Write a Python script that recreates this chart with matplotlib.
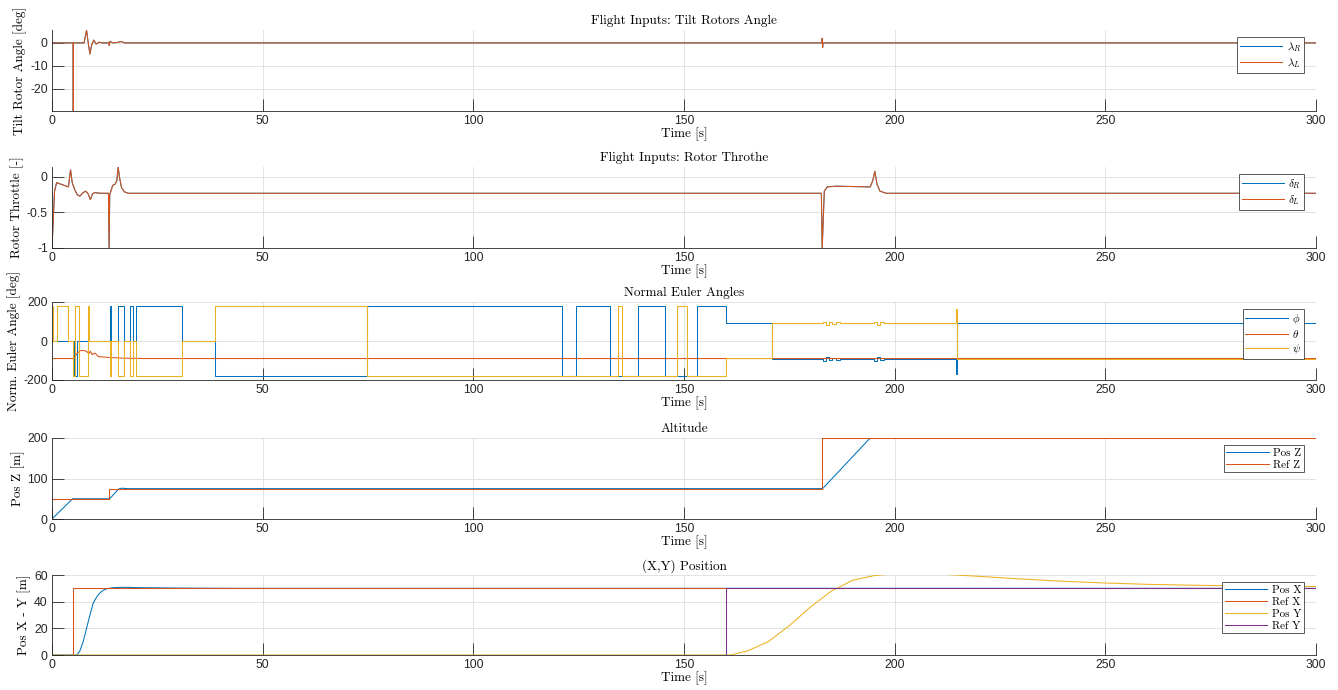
import matplotlib

matplotlib.use("Agg")
import matplotlib.pyplot as plt  # noqa: E402
from matplotlib.ticker import FuncFormatter  # noqa: E402

plt.rcParams["font.family"] = ["Liberation Sans", "DejaVu Sans"]
plt.rcParams["mathtext.fontset"] = "cm"
plt.rcParams["axes.unicode_minus"] = False

SERIF = "cmr10"
C_BLUE, C_ORANGE, C_YELLOW, C_PURPLE = "#0072BD", "#D95319", "#EDB120", "#7E2F8E"

# --- Tilt rotor angle [deg] (right and left overlap) ---
tilt_t = [0, 5.0, 5.05, 5.1, 7.6, 8.2, 8.6, 9.0, 9.4, 9.9, 10.5, 11.2, 12.0,
          13.5, 13.6, 13.7, 14.5, 15.5, 16.4, 17.3, 18.5, 182.7, 182.8, 182.9, 183.0, 300]
tilt_v = [0, 0, -40, 0, 0, 5.5, 0, -4.8, -1.0, 1.2, -0.5, 0.3, 0,
          0, -1.2, 0.6, 0, 0.2, 0.6, 0, 0, 0, 2.0, -2.0, 0, 0]

# --- Rotor throttle [-] ---
thr_t = [0, 0.6, 1.1, 2.0, 3.9, 4.4, 4.8, 5.4, 6.0, 6.6, 7.4, 8.0, 8.6, 9.1, 9.6,
         10.1, 11.5, 13.4, 13.55, 13.7, 14.4, 15.0, 15.4, 15.7, 16.0, 16.5, 17.2,
         18.1, 182.6, 182.8, 183.3, 184.0, 186.0, 194.2, 194.8, 195.3, 195.8, 196.5,
         198.0, 300]
thr_v = [-1, -0.2, -0.08, -0.1, -0.14, 0.1, -0.08, -0.18, -0.25, -0.27, -0.22, -0.2,
         -0.24, -0.32, -0.24, -0.22, -0.23, -0.23, -1.0, -0.25, -0.12, -0.1, -0.05,
         0.14, 0.0, -0.15, -0.21, -0.23, -0.23, -1.0, -0.2, -0.14, -0.13, -0.14,
         -0.05, 0.08, -0.1, -0.2, -0.23, -0.23]

# --- Normal Euler angles [deg] (phi, psi held between switch times) ---
phi_t = [0, 5.2, 6.0, 13.8, 14.1, 15.7, 17.1, 18.4, 19.3, 19.9, 30.9, 38.7, 74.7,
         121.0, 124.4, 132.5, 139.0, 145.5, 153.0, 160.0, 170.8, 183.0, 183.7, 184.4,
         185.2, 186.0, 187.0, 195.0, 195.8, 196.6, 197.5, 214.5, 214.9, 300]
phi_v = [0, -180, 0, 180, 0, 180, 0, 180, 0, 180, 0, -180, 180,
         -180, 180, -180, 180, -180, 180, 90, -90, -100, -80, -95,
         -85, -97, -90, -100, -82, -96, -90, -170, 90, 90]
theta_t = [0, 5.2, 6.0, 6.6, 7.5, 8.3, 8.8, 9.1, 9.5, 10.2, 11.0, 12.0, 14.0, 17.0,
           22.0, 300]
theta_v = [-90, -90, -62, -50, -48, -55, -65, -52, -70, -62, -80, -82, -85, -88,
           -90, -90]
psi_t = [0, 0.3, 1.1, 3.9, 5.1, 5.4, 6.3, 8.6, 8.8, 13.8, 14.1, 15.7, 17.1, 18.4,
         19.3, 19.9, 30.9, 38.7, 74.7, 134.3, 135.3, 148.4, 150.7, 160.0, 170.8,
         183.0, 183.7, 184.4, 185.2, 186.0, 187.0, 195.0, 195.8, 196.6, 197.5, 214.5,
         214.9, 300]
psi_v = [180, 0, 180, 0, -180, 180, -180, 180, 0, -180, 0, -180, 0, -180,
         0, -180, 0, 180, -180, 180, -180, 180, -180, -88, 90,
         100, 82, 97, 85, 95, 90, 98, 82, 95, 90, 165,
         -90, -90]

# --- Altitude [m] ---
refz_t = [0, 13.6, 182.8, 300]
refz_v = [50, 75, 200, 200]
posz_t = [0, 4.9, 13.7, 15.8, 16.5, 18.0, 182.9, 194.0, 195.5, 198.0, 300]
posz_v = [0, 50, 50, 74, 76, 75, 75, 198, 201, 200, 200]

# --- (X,Y) position [m] ---
refx_t = [0, 5.06, 300]
refx_v = [0, 50, 50]
refy_t = [0, 160.0, 300]
refy_v = [0, 50, 50]
posx_t = [0, 5.9, 6.6, 7.4, 8.2, 9.0, 9.8, 10.6, 11.4, 12.2, 13.0, 14.5, 16.9, 20.8,
          30.0, 45.0, 300]
posx_v = [0, 0, 3, 10, 20, 30, 39, 43.5, 46.7, 48.6, 49.7, 50.5, 50.8, 50.5,
          50.2, 50.0, 50.0]
posy_t = [0, 161, 165, 170, 175, 180, 185, 190, 195, 200, 205, 210, 220, 230, 240,
          250, 260, 270, 280, 290, 300]
posy_v = [0, 0, 3, 10, 22, 36, 48, 56, 59.5, 61, 61.2, 60.8, 59, 57, 55.3,
          54, 53, 52.4, 51.9, 51.6, 51.4]

W, H = 1338, 690
fig = plt.figure(figsize=(W / 100, H / 100), dpi=100)
fmt_g = FuncFormatter(lambda v, _: f"{v:g}")


def make_axes(top, bot):
    return fig.add_axes([52 / W, 1 - bot / H, 1264 / W, (bot - top) / H])


def style(ax, title, ylabel, ylim, yticks, h_px):
    ax.set_xlim(0, 300)
    ax.set_ylim(*ylim)
    ax.set_xticks(range(0, 301, 50))
    ax.set_yticks(yticks)
    ax.yaxis.set_major_formatter(fmt_g)
    ax.grid(True, color="#e2e2e2", linewidth=0.7)
    ax.set_axisbelow(True)
    for s in ("top", "right"):
        ax.spines[s].set_visible(False)
    for s in ("left", "bottom"):
        ax.spines[s].set_color("#262626")
        ax.spines[s].set_linewidth(0.6)
    ax.tick_params(direction="in", length=8.6, width=0.6, colors="#262626",
                   labelsize=8.8, pad=3)
    ax.set_title(title, fontfamily=SERIF, fontsize=9.5, pad=4)
    ax.set_xlabel("Time [s]", fontfamily=SERIF, fontsize=9.5, labelpad=0)
    ax.set_ylabel(ylabel, fontfamily=SERIF, fontsize=9.5, labelpad=2)
    leg = ax.legend(loc="upper right", bbox_to_anchor=(0.9905, 1 - 7 / h_px),
                    prop={"family": SERIF, "size": 8}, handlelength=3.8,
                    fancybox=False, edgecolor="#404040", framealpha=1,
                    borderpad=0.25, labelspacing=0.2, handletextpad=0.4,
                    borderaxespad=0)
    leg.get_frame().set_linewidth(0.6)


lw = 0.75

ax1 = make_axes(30, 111)
ax1.plot(tilt_t, tilt_v, color=C_BLUE, lw=lw, label=r"$\lambda_R$")
ax1.plot(tilt_t, tilt_v, color=C_ORANGE, lw=lw, label=r"$\lambda_L$")
style(ax1, "Flight Inputs: Tilt Rotors Angle", "Tilt Rotor Angle [deg]",
      (-29.6, 5.6), [-20, -10, 0], 81)

ax2 = make_axes(167, 248)
ax2.plot(thr_t, thr_v, color=C_BLUE, lw=lw, label=r"$\delta_R$")
ax2.plot(thr_t, thr_v, color=C_ORANGE, lw=lw, label=r"$\delta_L$")
style(ax2, "Flight Inputs: Rotor Throthe", "Rotor Throttle [-]",
      (-1, 0.14), [-1, -0.5, 0], 81)

ax3 = make_axes(302, 380)
ax3.plot(phi_t, phi_v, color=C_BLUE, lw=lw, drawstyle="steps-post", label=r"$\phi$")
ax3.plot(theta_t, theta_v, color=C_ORANGE, lw=lw, label=r"$\theta$")
ax3.plot(psi_t, psi_v, color=C_YELLOW, lw=lw, drawstyle="steps-post", label=r"$\psi$")
style(ax3, "Normal Euler Angles", "Norm. Euler Angle [deg]",
      (-200, 200), [-200, 0, 200], 78)

ax4 = make_axes(438, 519)
ax4.plot(posz_t, posz_v, color=C_BLUE, lw=lw, label="Pos Z")
ax4.plot(refz_t, refz_v, color=C_ORANGE, lw=lw, drawstyle="steps-post", label="Ref Z")
style(ax4, "Altitude", "Pos Z [m]", (0, 200), [0, 100, 200], 81)

ax5 = make_axes(575, 655)
ax5.plot(posx_t, posx_v, color=C_BLUE, lw=lw, label="Pos X")
ax5.plot(refx_t, refx_v, color=C_ORANGE, lw=lw, drawstyle="steps-post", label="Ref X")
ax5.plot(posy_t, posy_v, color=C_YELLOW, lw=lw, label="Pos Y")
ax5.plot(refy_t, refy_v, color=C_PURPLE, lw=lw, drawstyle="steps-post", label="Ref Y")
style(ax5, "(X,Y) Position", "Pos X - Y [m]", (0, 60), [0, 20, 40, 60], 80)

fig.savefig("out.png", dpi=100, facecolor="white")
plt.close(fig)
